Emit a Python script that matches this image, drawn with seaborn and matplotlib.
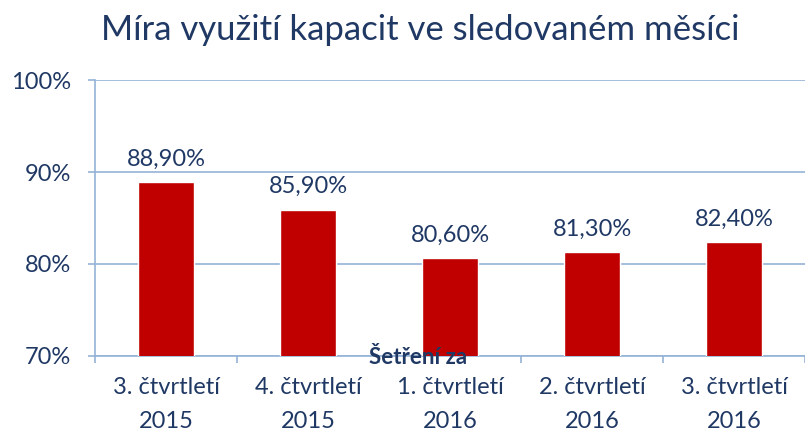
import matplotlib
matplotlib.use("Agg")
import matplotlib.pyplot as plt
import seaborn as sns
import pandas as pd

categories = ["3. čtvrtletí\n2015", "4. čtvrtletí\n2015", "1. čtvrtletí\n2016",
              "2. čtvrtletí\n2016", "3. čtvrtletí\n2016"]
values = [88.9, 85.9, 80.6, 81.3, 82.4]
title = "Míra využití kapacit ve sledovaném měsíci"
x_title = "Šetření za"

navy = "#1F3864"
grid_blue = "#95B3D7"
bar_red = "#C00000"

sns.set_style("white")
plt.rcParams["font.family"] = ["Lato", "DejaVu Sans"]

df = pd.DataFrame({"obdobi": categories, "hodnota": values})

fig = plt.figure(figsize=(8.05, 4.34), dpi=100)
ax = fig.add_axes([95 / 805, 78 / 434, 710 / 805, 276 / 434])

sns.barplot(data=df, x="obdobi", y="hodnota", color=bar_red, width=0.4,
            saturation=1, ax=ax, zorder=3)

ax.set_ylim(70, 100)
ax.set_xlim(-0.5, -0.5 + 710 / 143.5)
ax.set_yticks([70, 80, 90, 100])
ax.set_yticklabels([f"{t}%" for t in [70, 80, 90, 100]])
ax.yaxis.grid(True, color=grid_blue, linewidth=1.2, zorder=0)

for s in ["top", "right"]:
    ax.spines[s].set_visible(False)
for s in ["left", "bottom"]:
    ax.spines[s].set_color(grid_blue)
    ax.spines[s].set_linewidth(1.2)

ax.tick_params(axis="y", length=5, color=grid_blue, width=1.2, pad=12,
               labelsize=17, labelcolor=navy, left=True)
ax.set_xticks(range(len(categories)))
ax.set_xticklabels(categories, linespacing=1.75)
ax.tick_params(axis="x", which="major", length=0, pad=15, labelsize=17, labelcolor=navy)
ax.set_xticks([i - 0.5 for i in range(len(categories) + 1)], minor=True)
ax.tick_params(axis="x", which="minor", length=5, color=grid_blue, width=1.2, bottom=True)

ax.set_xlabel("")
ax.set_ylabel("")

for i, v in enumerate(values):
    ax.annotate(f"{v:.2f}".replace(".", ",") + "%", (i, v), xytext=(0, 9),
                textcoords="offset points", ha="center", va="bottom",
                fontsize=17, color=navy)

fig.text(418 / 805, 1 - 358 / 434, x_title, ha="center", va="center",
         fontsize=16, fontweight="bold", color=navy)

fig.text(420 / 805, 1 - 30 / 434, title, ha="center", va="center",
         fontsize=25, color=navy)

fig.savefig("out.png", dpi=100)
